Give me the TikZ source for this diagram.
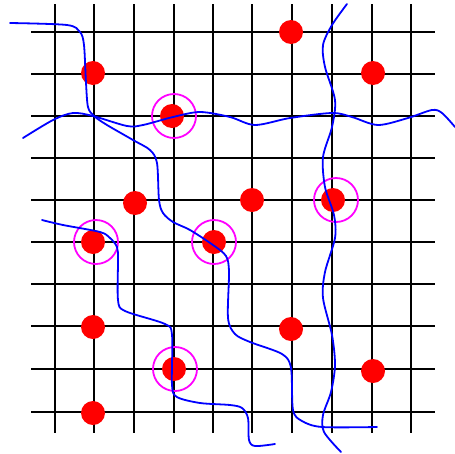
\documentclass[tikz,border=0pt]{standalone}
\definecolor{ringmag}{RGB}{255,0,255}
\definecolor{dotred}{RGB}{255,0,0}
\definecolor{wavblue}{RGB}{0,0,255}
\begin{document}
\begin{tikzpicture}[x=1pt,y=-1pt,
  gridline/.style={black,line width=2pt},
  dot/.style={circle,fill=dotred,inner sep=0pt,minimum width=24pt,minimum height=24pt},
  ring/.style={circle,draw=ringmag,line width=1.8pt,inner sep=0pt,minimum size=44pt},
  wave/.style={wavblue,line width=1.8pt,line cap=round}]
\useasboundingbox (0,0) rectangle (455,453);
% grid
\foreach \x in {55,94,134,174,213,252,292,332,372,411}
  \draw[gridline] (\x,4) -- (\x,433);
\foreach \y in {32,74,116,158,200,242,284,326,369,412}
  \draw[gridline] (31,\y) -- (435,\y);
% dots
\node[dot] (d1) at (291,32) {};
\node[dot] (d2) at (93,73) {};
\node[dot] (d3) at (373,73) {};
\node[dot] (d4) at (172,116) {};
\node[dot] (d5) at (135,203) {};
\node[dot] (d6) at (252,200) {};
\node[dot] (d7) at (333,200) {};
\node[dot] (d8) at (93,242) {};
\node[dot] (d9) at (214,242) {};
\node[dot] (d10) at (93,327) {};
\node[dot] (d11) at (291,329) {};
\node[dot] (d12) at (174,369) {};
\node[dot] (d13) at (373,371) {};
\node[dot] (d14) at (93,413) {};
% rings
\node[ring] (r1) at (174,116) {};
\node[ring] (r2) at (336,200) {};
\node[ring] (r3) at (96,242) {};
\node[ring] (r4) at (214,242) {};
\node[ring] (r5) at (175,369) {};
% curves
\draw[wave] plot[smooth,tension=0.5] coordinates {(10,23) (67,25) (80,32) (84,45) (86,83) (88,107) (94,116) (107,125) (133,140) (150,150) (157,163) (159,200) (163,213) (173,222) (190,230) (213,245) (226,256) (229,272) (228,318) (235,334) (250,342) (282,354) (291,368) (293,410) (302,421) (322,427) (377,427)};
\draw[wave] plot[smooth,tension=0.5] coordinates {(23,138) (53,120) (73,113) (93,116) (127,126) (143,125) (173,117) (200,112) (230,117) (255,125) (290,118) (332,113) (352,117) (378,125) (408,118) (432,110) (442,113) (455,127)};
\draw[wave] plot[smooth,tension=0.5] coordinates {(347,4) (332,25) (323,45) (325,67) (335,100) (332,127) (323,157) (325,187) (334,215) (335,238) (325,272) (323,298) (332,335) (335,365) (331,392) (323,415) (324,432) (341,452)};
\draw[wave] plot[smooth,tension=0.5] coordinates {(42,220) (63,225) (100,232) (110,238) (117,247) (118,260) (118,300) (125,311) (165,324) (172,335) (172,385) (177,397) (200,403) (230,405) (242,408) (248,418) (249,440) (255,446) (275,444)};
\end{tikzpicture}
\end{document}
